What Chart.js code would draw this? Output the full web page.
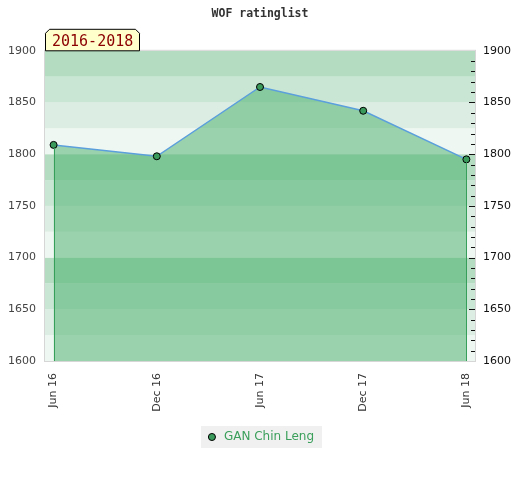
<!DOCTYPE html>
<html>
<head>
<meta charset="utf-8">
<script src="https://cdn.jsdelivr.net/npm/chart.js@4/dist/chart.umd.min.js"></script>
<style>
  body { margin: 0; background: #fff; }
  #wrap { width: 520px; height: 480px; }
</style>
</head>
<body>
<div id="wrap"><canvas id="rating"></canvas></div>
<script>
// chart data
var months = ['Jun 16', 'Dec 16', 'Jun 17', 'Dec 17', 'Jun 18'];
var monthIndex = [0, 6, 12, 18, 24];
var ratings = [1809, 1798, 1865, 1842, 1795];
var playerName = 'GAN Chin Leng';
var periodLabel = '2016-2018';
var yMin = 1600, yMax = 1900;

// rating band shades, bottom quarter of each hundred first
var bandColors = ['#eef7f1', '#dceee3', '#c9e6d4', '#b3dcc0'];

var points = [];
for (var i in ratings) {
	points.push({x: monthIndex[i], y: ratings[i]});
}

var extras = {
	id: 'extras',
	beforeDraw: function(chart) {
		var ctx = chart.ctx;
		var a = chart.chartArea;
		var y = chart.scales.y;
		// rating bands
		for (var v = yMin; v < yMax; v += 25) {
			var q = ((v % 100) / 25);
			var top = y.getPixelForValue(v + 25);
			var bot = y.getPixelForValue(v);
			ctx.fillStyle = bandColors[q];
			ctx.fillRect(a.left, top, a.right - a.left, bot - top);
		}
		// legend background
		var hb = chart.legend.legendHitBoxes[0];
		if (hb) {
			ctx.fillStyle = '#f0f0f0';
			ctx.fillRect(hb.left - 5, hb.top - 5, hb.width + 13, 22);
		}
	},
	afterDatasetsDraw: function(chart) {
		var ctx = chart.ctx;
		var a = chart.chartArea;
		var x = chart.scales.x;
		var y = chart.scales.y;
		ctx.save();
		// drop lines at first and last point
		ctx.strokeStyle = '#36a05a';
		ctx.lineWidth = 1;
		[0, ratings.length - 1].forEach(function(k) {
			var px = Math.round(x.getPixelForValue(monthIndex[k])) + 0.5;
			ctx.beginPath();
			ctx.moveTo(px, y.getPixelForValue(ratings[k]) + 3);
			ctx.lineTo(px, a.bottom);
			ctx.stroke();
		});
		// frame
		ctx.strokeStyle = '#d6d6d6';
		ctx.strokeRect(a.left - 0.5, a.top - 0.5, a.right - a.left + 1, a.bottom - a.top + 1);
		// inner tick marks on right side
		ctx.strokeStyle = '#111';
		for (var v = yMin + 10; v < yMax; v += 10) {
			var py = Math.round(y.getPixelForValue(v)) + 0.5;
			var len = (v % 50 === 0) ? 6 : 4;
			ctx.beginPath();
			ctx.moveTo(a.right - len, py);
			ctx.lineTo(a.right, py);
			ctx.stroke();
		}
		ctx.restore();
	},
	afterDraw: function(chart) {
		var ctx = chart.ctx;
		var a = chart.chartArea;
		var l = a.left, r = a.left + 95, t = a.top - 22, b = a.top;
		ctx.save();
		ctx.beginPath();
		ctx.moveTo(l + 0.5, b);
		ctx.lineTo(l + 0.5, t + 4.5);
		ctx.lineTo(l + 4.5, t + 0.5);
		ctx.lineTo(r - 4.5, t + 0.5);
		ctx.lineTo(r - 0.5, t + 4.5);
		ctx.lineTo(r - 0.5, b);
		ctx.closePath();
		ctx.fillStyle = '#ffffcc';
		ctx.fill();
		ctx.strokeStyle = '#000';
		ctx.lineWidth = 1;
		ctx.stroke();
		ctx.fillStyle = '#8b0000';
		ctx.font = '15px "DejaVu Sans Mono"';
		ctx.textBaseline = 'alphabetic';
		ctx.fillText(periodLabel, l + 7, b - 5);
		ctx.restore();
	}
};

var ctx = document.getElementById('rating');
var ratingChart = new Chart(ctx, {
	type: 'line',
	data: {
		datasets: [{
			label: playerName,
			data: points,
			borderColor: '#5b9fdc',
			borderWidth: 1.5,
			backgroundColor: 'rgba(69, 173, 106, 0.5)',
			fill: 'start',
			tension: 0,
			pointRadius: 3.5,
			pointHoverRadius: 3.5,
			pointBackgroundColor: '#3a9a5b',
			pointBorderColor: '#000',
			pointBorderWidth: 1
		}]
	},
	options: {
		responsive: true,
		maintainAspectRatio: false,
		animation: false,
		layout: { padding: { bottom: 27 } },
		plugins: {
			title: {
				display: true,
				text: 'WOF ratinglist',
				color: '#333',
				font: { family: 'DejaVu Sans Mono', size: 11.5, weight: 'bold' },
				padding: { top: 7, bottom: 30 }
			},
			legend: {
				position: 'bottom',
				labels: {
					usePointStyle: true,
					boxWidth: 12,
					boxHeight: 5,
					padding: 10,
					color: '#3a9f5a',
					font: { family: 'DejaVu Sans', size: 12 },
					generateLabels: function() {
						return [{
							text: playerName,
							fillStyle: '#3a9a5b',
							strokeStyle: '#000',
							lineWidth: 1,
							pointStyle: 'circle',
							fontColor: '#3a9f5a',
							datasetIndex: 0
						}];
					}
				}
			},
			tooltip: { enabled: false }
		},
		scales: {
			x: {
				type: 'linear',
				min: -0.5,
				max: 24.5,
				grid: { display: false, drawTicks: false },
				border: { display: false },
				afterBuildTicks: function(scale) {
					scale.ticks = monthIndex.map(function(v) { return {value: v}; });
				},
				afterFit: function(scale) { scale.height = 60; },
				ticks: {
					minRotation: 90,
					maxRotation: 90,
					padding: 12,
					color: '#333',
					font: { family: 'DejaVu Sans', size: 11 },
					callback: function(v) { return months[monthIndex.indexOf(v)]; }
				}
			},
			y: {
				position: 'left',
				min: yMin,
				max: yMax,
				grid: { display: false, drawTicks: false },
				border: { display: false },
				afterFit: function(scale) { scale.width = 45; },
				ticks: {
					stepSize: 50,
					padding: 9,
					color: '#444',
					font: { family: 'DejaVu Sans', size: 11 },
					callback: function(v) { return String(v); }
				}
			},
			y2: {
				position: 'right',
				min: yMin,
				max: yMax,
				grid: { display: false, drawTicks: false },
				border: { display: false },
				afterFit: function(scale) { scale.width = 45; },
				ticks: {
					stepSize: 50,
					padding: 8,
					color: '#111',
					font: { family: 'DejaVu Sans', size: 11 },
					callback: function(v) { return String(v); }
				}
			}
		}
	},
	plugins: [extras]
});
</script>
</body>
</html>
